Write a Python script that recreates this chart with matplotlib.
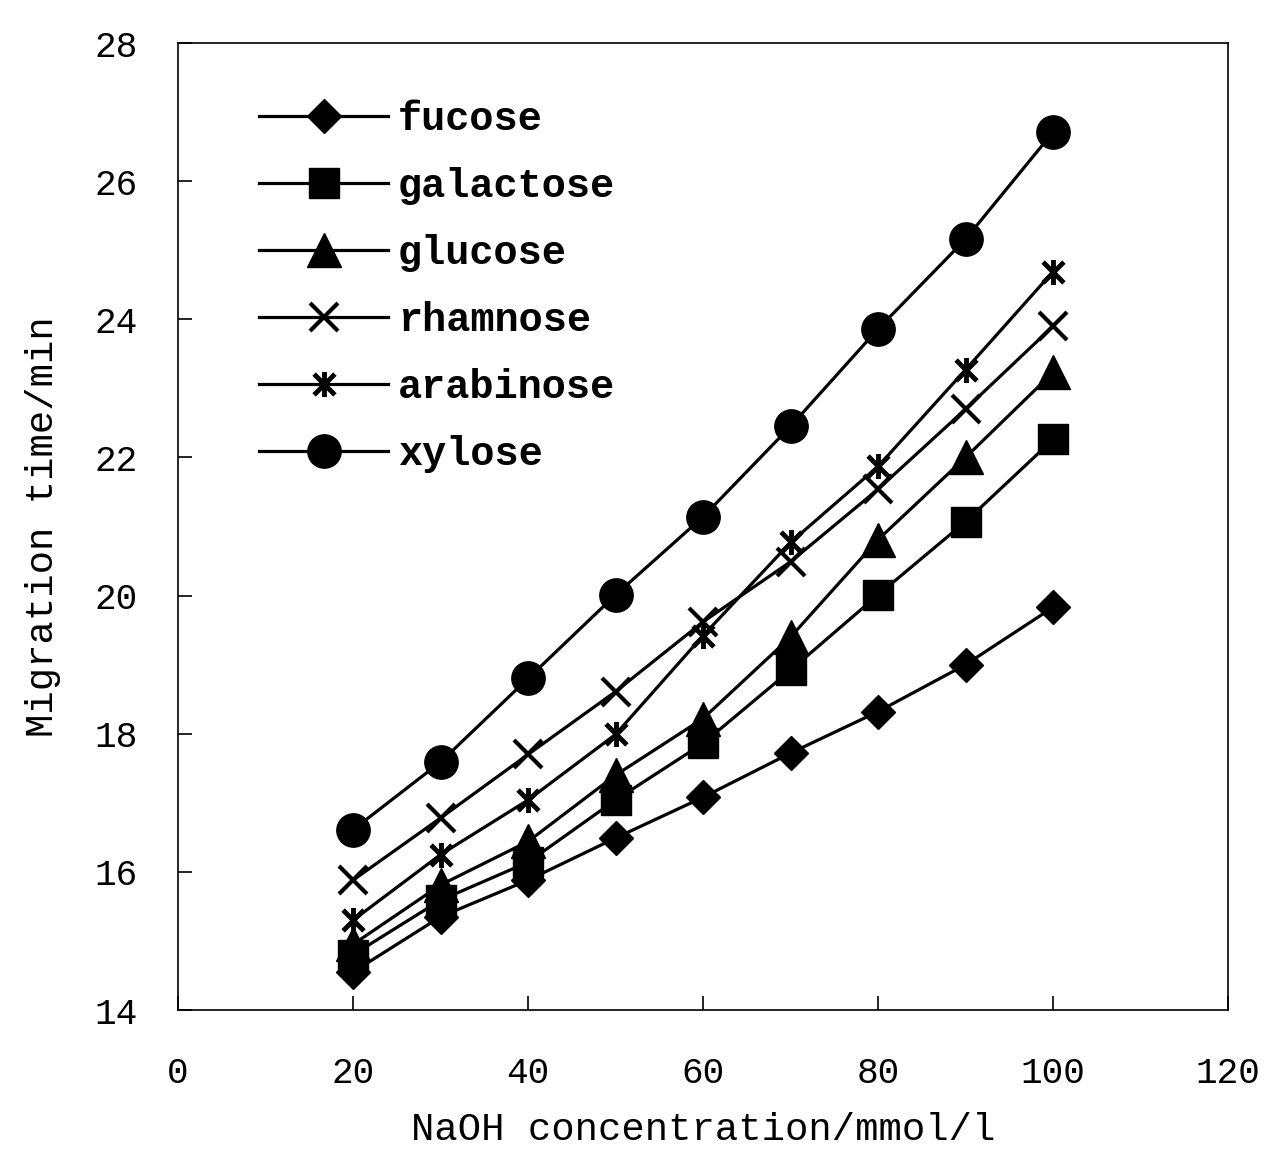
import matplotlib.pyplot as plt
import numpy as np
from matplotlib.path import Path

# NaOH concentration (mmol/l)
naoh = [20, 30, 40, 50, 60, 70, 80, 90, 100]

# migration times (min) for each sugar
fucose = [14.55, 15.35, 15.88, 16.49, 17.08, 17.72, 18.32, 19.00, 19.83]
galactose = [14.80, 15.59, 16.14, 17.04, 17.86, 18.92, 20.01, 21.07, 22.26]
glucose = [14.95, 15.81, 16.44, 17.40, 18.22, 19.40, 20.81, 22.00, 23.23]
rhamnose = [15.88, 16.78, 17.70, 18.61, 19.62, 20.49, 21.54, 22.70, 23.90]
arabinose = [15.30, 16.25, 17.04, 17.99, 19.42, 20.77, 21.87, 23.27, 24.69]
xylose = [16.61, 17.59, 18.80, 20.01, 21.14, 22.45, 23.86, 25.16, 26.71]

names = ["fucose", "galactose", "glucose", "rhamnose", "arabinose", "xylose"]

# star marker: an x with a vertical bar through it
star = Path([(-1, -1), (1, 1), (-1, 1), (1, -1), (0, -1.2), (0, 1.2)],
            [Path.MOVETO, Path.LINETO, Path.MOVETO, Path.LINETO,
             Path.MOVETO, Path.LINETO])

plt.rcParams['font.family'] = ['Liberation Mono', 'DejaVu Sans Mono']

fig = plt.figure(figsize=(12.68, 11.53), dpi=100)
ax = fig.add_axes([0.1404, 0.124, 0.8281, 0.8387])

lw = 2.3
ax.plot(naoh, fucose, color='black', lw=lw, marker='D', ms=17, label=names[0])
ax.plot(naoh, galactose, color='black', lw=lw, marker='s', ms=21, label=names[1])
ax.plot(naoh, glucose, color='black', lw=lw, marker='^', ms=24, label=names[2])
ax.plot(naoh, rhamnose, color='black', lw=lw, marker='x', ms=20, mew=3, label=names[3])
ax.plot(naoh, arabinose, color='black', lw=lw, marker=star, ms=18, mew=3.5, label=names[4])
ax.plot(naoh, xylose, color='black', lw=lw, marker='o', ms=24, label=names[5])

ax.set_xlim(0, 120)
ax.set_ylim(14, 28)
ax.set_xticks(np.arange(0, 121, 20))
ax.set_yticks(np.arange(14, 29, 2))
ax.tick_params(direction='in', length=10, width=1.2, labelsize=26)
ax.tick_params(axis='x', pad=33)
ax.tick_params(axis='y', pad=29)
for s in ax.spines.values():
    s.set_linewidth(1.2)

ax.set_xlabel('NaOH concentration/mmol/l', fontsize=28, labelpad=15)
ax.set_ylabel('Migration time/min', fontsize=28, labelpad=24)

ax.legend(loc='upper left', bbox_to_anchor=(0.058, 0.962), frameon=False,
          borderpad=0, prop={'size': 29, 'weight': 'bold'}, markerscale=1.0,
          handlelength=3.2, handletextpad=0.25, labelspacing=0.72)

fig.savefig('out.png', dpi=100)
